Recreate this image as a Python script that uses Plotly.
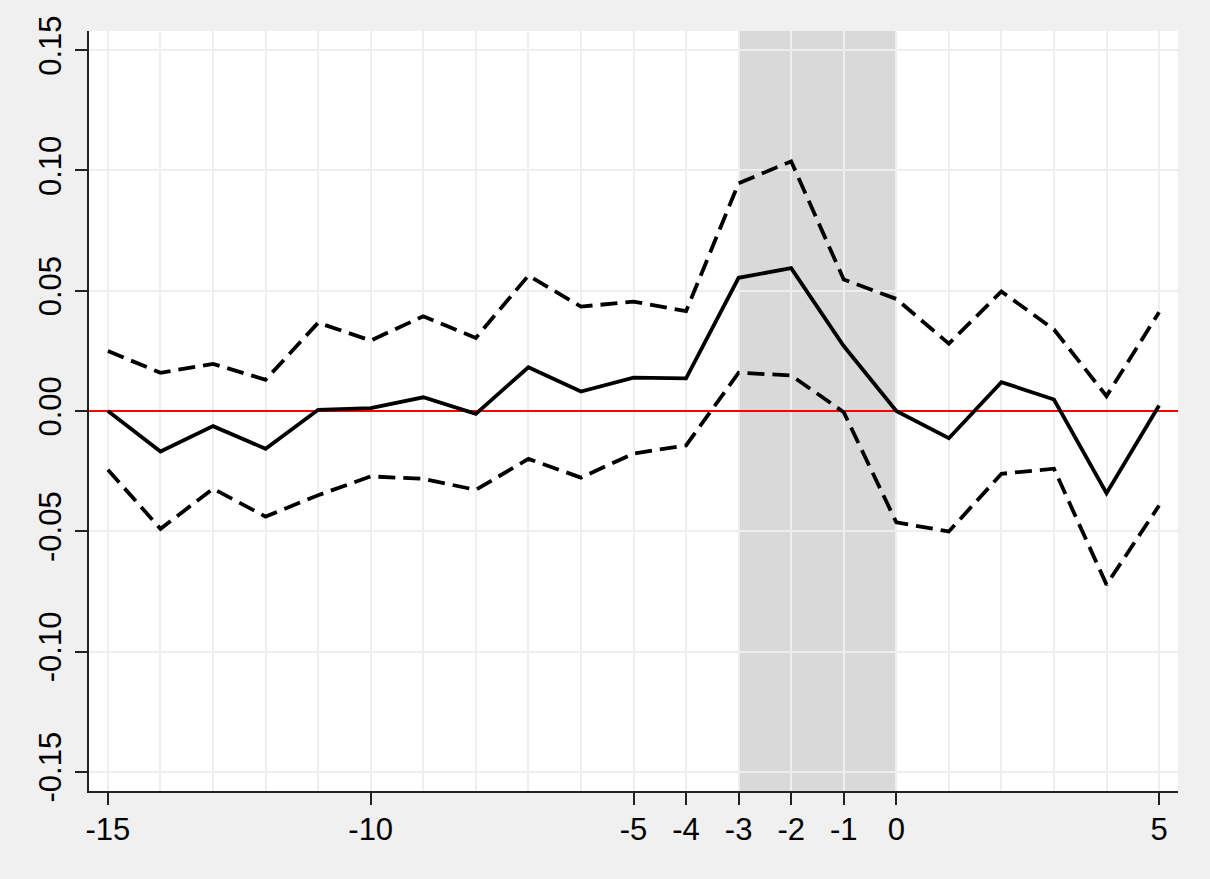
import plotly.graph_objects as go

years = list(range(-15, 6))
coef = [0.0, -0.0168, -0.0063, -0.0157, 0.0005, 0.0012, 0.0057, -0.0012, 0.0182, 0.0081,
        0.0139, 0.0136, 0.0554, 0.0594, 0.0270, 0.0, -0.0113, 0.0120, 0.0048, -0.0342, 0.0023]
upper = [0.0249, 0.0159, 0.0196, 0.0130, 0.0367, 0.0293, 0.0394, 0.0304, 0.0563, 0.0434,
         0.0455, 0.0415, 0.0947, 0.1038, 0.0547, 0.0466, 0.0280, 0.0497, 0.0339, 0.0062, 0.0411]
lower = [-0.0244, -0.0490, -0.0323, -0.0439, -0.0350, -0.0272, -0.0282, -0.0328, -0.0199, -0.0277,
         -0.0177, -0.0143, 0.0159, 0.0148, -0.0005, -0.0463, -0.0501, -0.0261, -0.0240, -0.0722, -0.0393]

x_tickvals = [-15, -10, -5, -4, -3, -2, -1, 0, 5]
x_ticktext = ["-15", "-10", "-5", "-4", "-3", "-2", "-1", "0", "5"]
y_tickvals = [-0.15, -0.10, -0.05, 0.0, 0.05, 0.10, 0.15]
y_ticktext = ["-0.15", "-0.10", "-0.05", "0.00", "0.05", "0.10", "0.15"]
band = [-3, 0]

fig = go.Figure()
fig.add_trace(go.Scatter(x=years, y=upper, mode="lines",
                         line=dict(color="black", width=3.8, dash="17px,8px"), hoverinfo="skip"))
fig.add_trace(go.Scatter(x=years, y=lower, mode="lines",
                         line=dict(color="black", width=3.8, dash="17px,8px"), hoverinfo="skip"))
fig.add_trace(go.Scatter(x=years, y=coef, mode="lines",
                         line=dict(color="black", width=3.8), hoverinfo="skip"))

fig.add_shape(type="rect", xref="x", yref="paper", x0=band[0], x1=band[1], y0=0, y1=1,
              fillcolor="#d9d9d9", line=dict(width=0), layer="below")

gridcol = "#eeeeee"
fig.update_layout(
    width=1210, height=879,
    paper_bgcolor="#f0f0f0", plot_bgcolor="white",
    margin=dict(l=89, r=32, t=31, b=88),
    showlegend=False,
    font=dict(family="Liberation Sans, Arial, sans-serif", size=31, color="black"),
    xaxis=dict(range=[-15.36, 5.36], tickmode="array", tickvals=x_tickvals, ticktext=x_ticktext,
               showgrid=True, gridcolor=gridcol, gridwidth=2,
               minor=dict(tickmode="linear", tick0=0, dtick=1, showgrid=True,
                          gridcolor=gridcol, gridwidth=2, ticks=""),
               showline=True, linecolor="#222222", linewidth=2,
               ticks="outside", ticklen=12, tickwidth=2, tickcolor="#222222",
               zeroline=False, ticklabelstandoff=-2),
    yaxis=dict(range=[-0.158, 0.158], tickmode="array", tickvals=y_tickvals, ticktext=y_ticktext,
               showgrid=True, gridcolor=gridcol, gridwidth=2,
               showline=True, linecolor="#222222", linewidth=2,
               ticks="outside", ticklen=12, tickwidth=2, tickcolor="#222222",
               tickangle=-90, zeroline=True, zerolinecolor="red", zerolinewidth=2,
               ticklabelstandoff=2),
)

fig.write_html("out.html", config={"displayModeBar": False},
               post_script="document.body.style.margin='0';document.body.style.background='#f0f0f0';")
